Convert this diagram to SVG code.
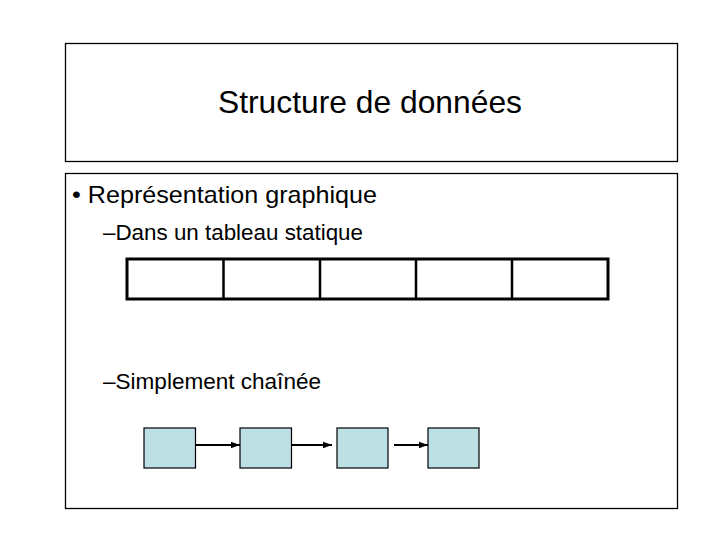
<svg xmlns="http://www.w3.org/2000/svg" width="720" height="540" viewBox="0 0 720 540">
<style>
text{font-family:"Liberation Sans",Arial,sans-serif;fill:#000}
.frame{fill:#fff;stroke:#000;stroke-width:1.3}
.cell{fill:#fff;stroke:#000;stroke-width:3}
.div{stroke:#000;stroke-width:2.5}
.node{fill:#bde0e4;stroke:#000;stroke-width:1.2}
.conn{stroke:#000;stroke-width:2;fill:none;marker-end:url(#ah)}
</style>
<defs>
<marker id="ah" viewBox="0 0 10 10" refX="10" refY="5" markerWidth="4.5" markerHeight="4.5" orient="auto" markerUnits="strokeWidth">
<path d="M0,1.5 L10,5 L0,8.5 z" fill="#000"/>
</marker>
</defs>
<rect width="720" height="540" fill="#fff"/>
<g id="title">
<rect class="frame" x="65.5" y="43.5" width="612" height="118"/>
<text x="218" y="113" font-size="31.5" textLength="304" lengthAdjust="spacingAndGlyphs">Structure de données</text>
</g>
<g id="body">
<rect class="frame" x="65.5" y="173.5" width="612" height="335"/>
<text x="72" y="203" font-size="24" textLength="305" lengthAdjust="spacingAndGlyphs">• Représentation graphique</text>
<text x="103" y="240" font-size="21.5" textLength="260" lengthAdjust="spacingAndGlyphs">–Dans un tableau statique</text>
<text x="103" y="389" font-size="21.5" textLength="218" lengthAdjust="spacingAndGlyphs">–Simplement chaînée</text>
</g>
<g id="tableau">
<rect class="cell" x="127" y="259" width="481" height="40"/>
<line class="div" x1="223.5" y1="259" x2="223.5" y2="299"/>
<line class="div" x1="320" y1="259" x2="320" y2="299"/>
<line class="div" x1="416" y1="259" x2="416" y2="299"/>
<line class="div" x1="512" y1="259" x2="512" y2="299"/>
</g>
<g id="n1"><rect class="node" x="144" y="428" width="51.5" height="40"/></g>
<g id="n2"><rect class="node" x="240" y="428" width="51.5" height="40"/></g>
<g id="n3"><rect class="node" x="337" y="428" width="51" height="40"/></g>
<g id="n4"><rect class="node" x="428" y="428" width="51" height="40"/></g>
<g id="connectors">
<line class="conn" x1="196" y1="445" x2="240" y2="445"/>
<line class="conn" x1="292" y1="445" x2="332" y2="445"/>
<line class="conn" x1="394" y1="445" x2="428" y2="445"/>
</g>
</svg>
